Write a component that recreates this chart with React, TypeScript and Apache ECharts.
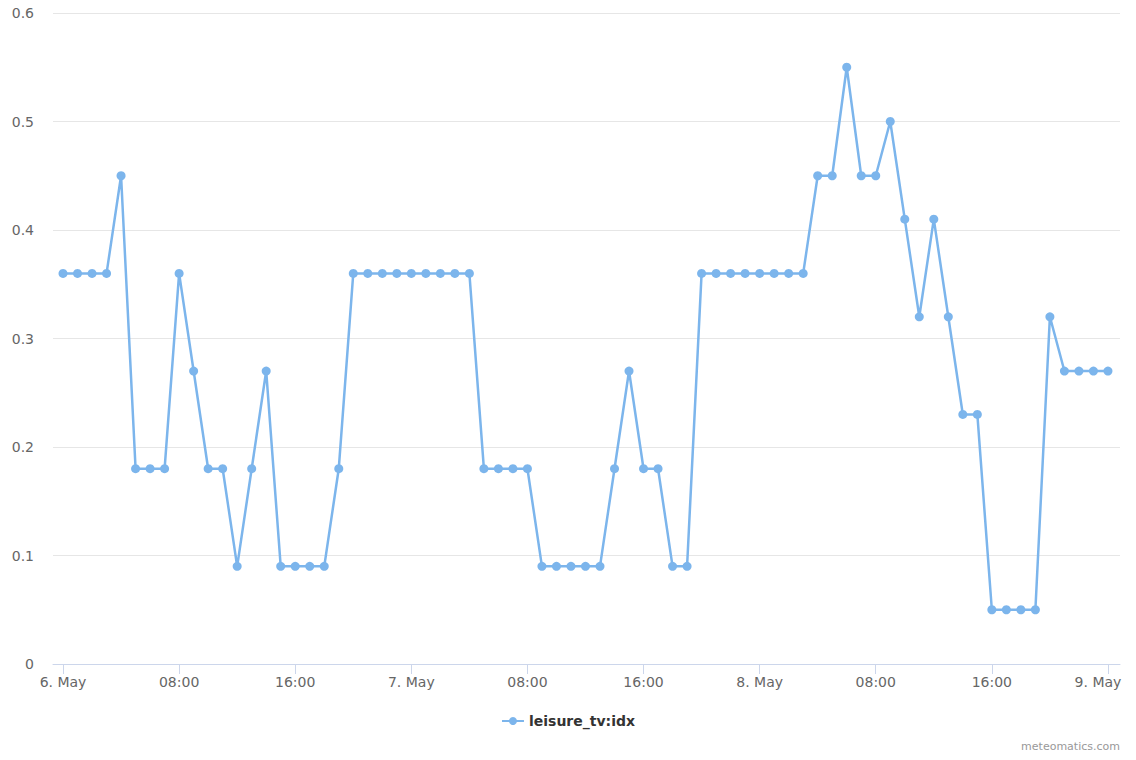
import React, { useEffect, useRef } from "react";
import * as echarts from "echarts";

const hours: number[] = Array.from({ length: 73 }, (_, i) => i);
const values: number[] = [
  0.36, 0.36, 0.36, 0.36, 0.45, 0.18, 0.18, 0.18, 0.36, 0.27, 0.18, 0.18,
  0.09, 0.18, 0.27, 0.09, 0.09, 0.09, 0.09, 0.18, 0.36, 0.36, 0.36, 0.36,
  0.36, 0.36, 0.36, 0.36, 0.36, 0.18, 0.18, 0.18, 0.18, 0.09, 0.09, 0.09,
  0.09, 0.09, 0.18, 0.27, 0.18, 0.18, 0.09, 0.09, 0.36, 0.36, 0.36, 0.36,
  0.36, 0.36, 0.36, 0.36, 0.45, 0.45, 0.55, 0.45, 0.45, 0.5, 0.41, 0.32,
  0.41, 0.32, 0.23, 0.23, 0.05, 0.05, 0.05, 0.05, 0.32, 0.27, 0.27, 0.27,
  0.27,
];
const tickHours: number[] = [0, 8, 16, 24, 32, 40, 48, 56, 64, 72];
const tickLabels: string[] = [
  "6. May", "08:00", "16:00", "7. May", "08:00", "16:00", "8. May", "08:00", "16:00", "9. May",
];
const seriesName = "leisure_tv:idx";

const FONT = "DejaVu Sans";

export default function App() {
  const ref = useRef<HTMLDivElement>(null);
  useEffect(() => {
    if (!ref.current) return;
    const chart = echarts.init(ref.current, undefined, { renderer: "svg" });
    chart.setOption({
      animation: false,
      textStyle: { fontFamily: FONT },
      grid: { left: 53, right: 16, top: 13, bottom: 96, containLabel: false },
      legend: {
        bottom: 27,
        left: "center",
        itemWidth: 22,
        itemHeight: 10,
        itemGap: 10,
        textStyle: { fontFamily: FONT, fontSize: 14, fontWeight: "bold", color: "#333" },
        data: [seriesName],
      },
      graphic: [
        {
          type: "text",
          right: 16,
          bottom: 8,
          style: { text: "meteomatics.com", fill: "#999", font: `11px ${FONT}` },
        },
      ],
      xAxis: {
        type: "value",
        min: -0.69,
        max: 72.83,
        splitLine: { show: false },
        axisLine: { show: true, lineStyle: { color: "#ccd6eb", width: 1 } },
        axisTick: { show: true, customValues: tickHours, length: 10, lineStyle: { color: "#ccd6eb" } },
        axisLabel: {
          customValues: tickHours,
          color: "#666",
          fontSize: 14,
          fontFamily: FONT,
          margin: 11,
          formatter: (v: number) => {
            const idx = tickHours.indexOf(Math.round(v));
            if (idx < 0) return "";
            return idx === tickHours.length - 1 ? `{last|${tickLabels[idx]}}` : tickLabels[idx];
          },
          rich: {
            last: { color: "#666", fontSize: 14, fontFamily: FONT, padding: [0, 20, 0, 0] },
          },
        },
      },
      yAxis: {
        type: "value",
        min: 0,
        max: 0.6,
        interval: 0.1,
        axisLine: { show: false },
        axisTick: { show: false },
        splitLine: { lineStyle: { color: "#e6e6e6" } },
        axisLabel: {
          color: "#666",
          fontSize: 14,
          fontFamily: FONT,
          margin: 19,
          formatter: (v: number) => (v === 0 ? "0" : String(Math.round(v * 10) / 10)),
        },
      },
      series: [
        {
          name: seriesName,
          type: "line",
          data: hours.map((h, i) => [h, values[i]]),
          symbol: "circle",
          symbolSize: 9,
          showAllSymbol: true,
          itemStyle: { color: "#7cb5ec" },
          lineStyle: { color: "#7cb5ec", width: 2.5 },
        },
      ],
    });
    return () => chart.dispose();
  }, []);
  return <div ref={ref} style={{ width: 1136, height: 760, margin: -8 }} />;
}
